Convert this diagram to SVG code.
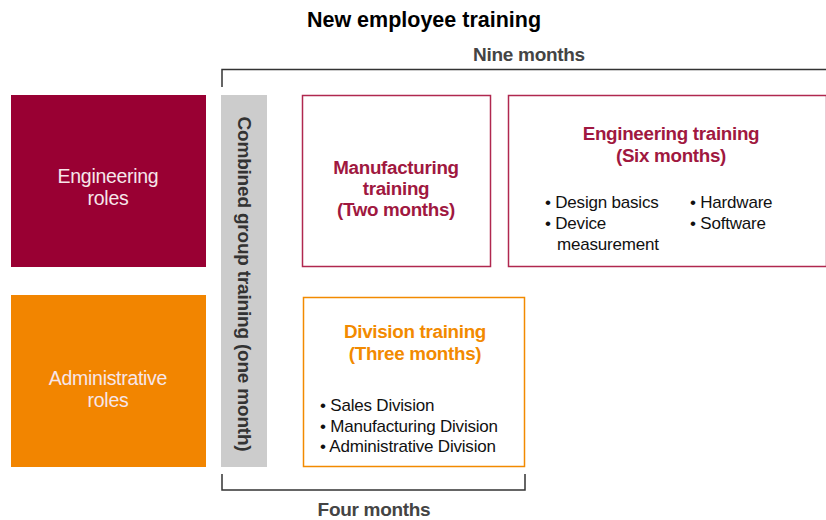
<svg xmlns="http://www.w3.org/2000/svg" width="826" height="520" viewBox="0 0 826 520">
<style>
text{font-family:"Liberation Sans",Arial,sans-serif}
.role{font-size:19.5px;fill:#f6e6ea;text-anchor:middle;letter-spacing:-0.3px}
.head{font-size:18.8px;font-weight:bold;text-anchor:middle;letter-spacing:-0.3px}
.crim{fill:#a01840}
.org{fill:#f28a00}
.item{font-size:17px;fill:#111;letter-spacing:-0.2px}
.dim{font-size:19px;fill:#444;text-anchor:middle;font-weight:bold;letter-spacing:-0.3px}
.br{fill:none;stroke:#333;stroke-width:1.5}
</style>
<rect width="826" height="520" fill="#fff"/>
<text x="424" y="27" text-anchor="middle" font-size="21.5" font-weight="bold" fill="#000">New employee training</text>
<g id="connectors">
<path class="br" d="M222,87 V69.5 H826"/>
<path class="br" d="M222,474 V490 H525 V474"/>
<text class="dim" x="529" y="61">Nine months</text>
<text class="dim" x="374" y="516">Four months</text>
</g>
<g id="engineering-roles">
<rect x="11" y="95" width="195" height="172" fill="#990033"/>
<text class="role" x="108" y="183">Engineering</text>
<text class="role" x="108" y="205">roles</text>
</g>
<g id="administrative-roles">
<rect x="11" y="295" width="195" height="172" fill="#f28500"/>
<text class="role" x="108" y="385">Administrative</text>
<text class="role" x="108" y="407">roles</text>
</g>
<g id="combined-training">
<rect x="221" y="95" width="46" height="372" fill="#cccccc"/>
<text x="244" y="284" transform="rotate(90 244 284)" text-anchor="middle" dominant-baseline="central" font-size="19" font-weight="bold" fill="#333" letter-spacing="-0.2">Combined group training (one month)</text>
</g>
<g id="manufacturing-training">
<rect x="302.5" y="95.5" width="188" height="171" fill="#fff" stroke="#b0284f" stroke-width="1.5"/>
<text class="head crim" x="396" y="174">Manufacturing</text>
<text class="head crim" x="396" y="195">training</text>
<text class="head crim" x="396" y="216">(Two months)</text>
</g>
<g id="engineering-training">
<rect x="508.5" y="95.5" width="318" height="171" fill="#fff" stroke="#b0284f" stroke-width="1.5"/>
<text class="head crim" x="671" y="140">Engineering training</text>
<text class="head crim" x="671" y="162">(Six months)</text>
<text class="item" x="545" y="208">• Design basics</text>
<text class="item" x="545" y="229">• Device</text>
<text class="item" x="557" y="250">measurement</text>
<text class="item" x="690" y="208">• Hardware</text>
<text class="item" x="690" y="229">• Software</text>
</g>
<g id="division-training">
<rect x="303.5" y="297.5" width="221" height="169" fill="#fff" stroke="#f28a00" stroke-width="1.5"/>
<text class="head org" x="415" y="338">Division training</text>
<text class="head org" x="415" y="360">(Three months)</text>
<text class="item" x="320" y="411">• Sales Division</text>
<text class="item" x="320" y="432">• Manufacturing Division</text>
<text class="item" x="320" y="452">• Administrative Division</text>
</g>
</svg>
